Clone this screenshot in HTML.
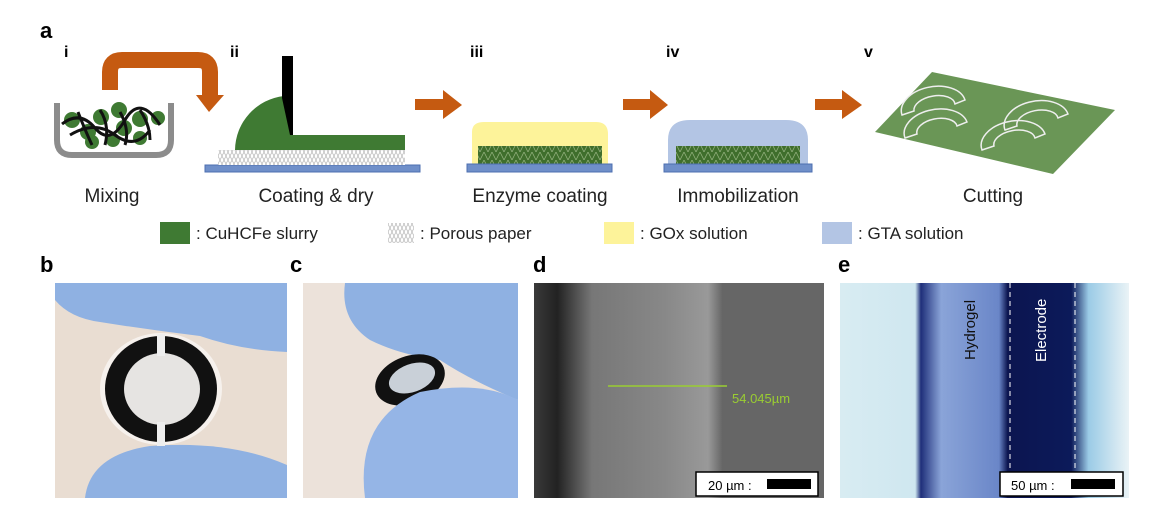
<!DOCTYPE html>
<html><head><meta charset="utf-8"><style>
body{margin:0;background:#fff;width:1169px;height:518px;overflow:hidden;font-family:"Liberation Sans",sans-serif}
</style></head><body>
<svg width="1169" height="518" viewBox="0 0 1169 518" xmlns="http://www.w3.org/2000/svg" font-family="Liberation Sans, sans-serif">
<defs>
<pattern id="pp" width="8" height="8" patternUnits="userSpaceOnUse"><rect width="8" height="8" fill="#fff"/><path d="M0 8L4 0L8 8M0 0L4 8L8 0" stroke="#bbb" stroke-width="0.8" fill="none"/></pattern>
<pattern id="gp" width="8" height="8" patternUnits="userSpaceOnUse"><rect width="8" height="8" fill="#3f6e2c"/><path d="M0 8L4 0L8 8" stroke="#8fae7a" stroke-width="0.8" fill="none"/></pattern>
<linearGradient id="gd" x1="0" y1="0" x2="1" y2="0"><stop offset="0" stop-color="#3a3a3a"/><stop offset="0.08" stop-color="#222"/><stop offset="0.2" stop-color="#777"/><stop offset="0.45" stop-color="#888"/><stop offset="0.6" stop-color="#999"/><stop offset="0.65" stop-color="#666"/><stop offset="1" stop-color="#666"/></linearGradient>
<linearGradient id="ge" x1="0" y1="0" x2="1" y2="0"><stop offset="0" stop-color="#d8ecf2"/><stop offset="0.26" stop-color="#cfe7f0"/><stop offset="0.28" stop-color="#1f2f7a"/><stop offset="0.35" stop-color="#8aa4d8"/><stop offset="0.55" stop-color="#6a86c8"/><stop offset="0.58" stop-color="#0c1550"/><stop offset="0.8" stop-color="#0c1a5a"/><stop offset="0.86" stop-color="#9bcbe6"/><stop offset="1" stop-color="#eaf3f6"/></linearGradient>
<clipPath id="cb"><rect x="55" y="283" width="232" height="215"/></clipPath>
<clipPath id="cc"><rect x="303" y="283" width="215" height="215"/></clipPath>
</defs>
<text x="40" y="38" font-size="22" font-weight="bold">a</text>
<g font-size="16" font-weight="bold"><text x="64" y="57">i</text><text x="230" y="57">ii</text><text x="470" y="57">iii</text><text x="666" y="57">iv</text><text x="864" y="57">v</text></g>
<path d="M57 103 V140 Q57 155 72 155 H156 Q171 155 171 140 V103" fill="none" stroke="#8c8c8c" stroke-width="6"/>
<g fill="#3f7a33"><circle cx="72" cy="120" r="8"/><circle cx="88" cy="132" r="8"/><circle cx="101" cy="117" r="8"/><circle cx="119" cy="110" r="8"/><circle cx="124" cy="128" r="8"/><circle cx="140" cy="119" r="8"/><circle cx="158" cy="118" r="7"/><circle cx="92" cy="142" r="7"/><circle cx="113" cy="140" r="7"/><circle cx="140" cy="138" r="7"/></g>
<path d="M62 124 Q80 110 95 128 T125 120 T160 125 M78 112 Q85 130 92 145 M100 110 Q110 125 105 145 M120 112 Q130 130 125 145 M140 110 Q150 125 150 140 M70 135 Q95 120 115 135 T150 130" fill="none" stroke="#111" stroke-width="3"/>
<path d="M110 90 V72 Q110 60 122 60 H198 Q210 60 210 72 V95" fill="none" stroke="#c55a11" stroke-width="16"/>
<path d="M196 95 H224 L209 112 Z" fill="#c55a11"/>
<rect x="205" y="165" width="215" height="7" fill="#6f8fc9" stroke="#4c6fb0"/>
<rect x="218" y="150" width="187" height="15" fill="url(#pp)"/>
<path d="M235 150 A55 55 0 0 1 284 96 L293 135 H405 V150 Z" fill="#3f7a33"/>
<path d="M282 56 H293 V135 H290 L282 98 Z" fill="#000"/>
<g fill="#c55a11"><path d="M415 99 H443 V90 L462 105 L443 119 V110 H415 Z"/><path d="M623 99 H650 V90 L668 105 L650 119 V110 H623 Z"/><path d="M815 99 H842 V90 L862 105 L842 119 V110 H815 Z"/></g>
<path d="M472 165 V132 Q472 122 484 122 H596 Q608 122 608 134 V165 Z" fill="#fdf39a"/>
<rect x="478" y="146" width="124" height="18" fill="url(#gp)"/>
<rect x="467" y="164" width="145" height="8" fill="#6f8fc9" stroke="#4c6fb0"/>
<path d="M668 164 V140 Q668 120 690 120 H786 Q808 120 808 140 V164 Z" fill="#b3c5e4"/>
<rect x="676" y="146" width="124" height="18" fill="url(#gp)"/>
<rect x="664" y="164" width="148" height="8" fill="#6f8fc9" stroke="#4c6fb0"/>
<path d="M932 72 L1115 110 L1053 174 L875 132 Z" fill="#6a9656"/>
<g fill="none" stroke="#eee" stroke-width="1.5">
<path d="M902 115 A28 18 -10 0 1 965 100 L955 104 A18 10 -10 0 0 914 111 Z"/>
<path d="M905 138 A28 18 -10 0 1 967 122 L957 126 A18 10 -10 0 0 917 134 Z"/>
<path d="M1005 130 A28 18 -10 0 1 1068 114 L1058 118 A18 10 -10 0 0 1017 126 Z"/>
<path d="M982 150 A28 18 -10 0 1 1045 134 L1035 138 A18 10 -10 0 0 994 146 Z"/>
</g>
<g font-size="19" text-anchor="middle" fill="#222"><text x="112" y="202">Mixing</text><text x="316" y="202">Coating &amp; dry</text><text x="540" y="202">Enzyme coating</text><text x="738" y="202">Immobilization</text><text x="993" y="202">Cutting</text></g>
<rect x="160" y="222" width="30" height="22" fill="#3f7a33"/><text x="196" y="239" font-size="17" fill="#222">: CuHCFe slurry</text>
<rect x="388" y="223" width="26" height="20" fill="url(#pp)"/><text x="420" y="239" font-size="17" fill="#222">: Porous paper</text>
<rect x="604" y="222" width="30" height="22" fill="#fdf39a"/><text x="640" y="239" font-size="17" fill="#222">: GOx solution</text>
<rect x="822" y="222" width="30" height="22" fill="#b3c5e4"/><text x="858" y="239" font-size="17" fill="#222">: GTA solution</text>
<g font-size="22" font-weight="bold"><text x="40" y="272">b</text><text x="290" y="272">c</text><text x="533" y="272">d</text><text x="838" y="272">e</text></g>
<!-- b -->
<g clip-path="url(#cb)">
<rect x="55" y="283" width="232" height="215" fill="#e9ddd2"/>
<path d="M55 283 H287 V352 Q240 350 200 336 Q150 330 100 322 Q70 318 55 300 Z" fill="#8fb1e2"/>
<path d="M85 498 Q90 455 150 446 Q230 440 287 465 V498 Z" fill="#8fb1e2"/>
<ellipse cx="161" cy="389" rx="61" ry="56" fill="#fff" opacity="0.6"/>
<ellipse cx="161" cy="389" rx="56" ry="53" fill="#111"/>
<ellipse cx="162" cy="389" rx="38" ry="36" fill="#e6e4e2"/>
<rect x="157" y="334" width="8" height="22" fill="#eee"/><rect x="157" y="422" width="8" height="24" fill="#eee"/>
</g>
<!-- c -->
<g clip-path="url(#cc)">
<rect x="303" y="283" width="215" height="215" fill="#ece2da"/>
<path d="M345 283 H518 V400 Q470 380 440 360 Q400 355 370 340 Q340 320 345 283 Z" fill="#8fb1e2"/>
<ellipse cx="410" cy="380" rx="36" ry="24" fill="#111" transform="rotate(-20 410 380)"/>
<ellipse cx="412" cy="378" rx="24" ry="14" fill="#c9d0d8" transform="rotate(-20 412 378)"/>
<path d="M365 498 Q355 420 420 392 Q480 380 518 400 V498 Z" fill="#95b5e6"/>
</g>
<!-- d -->
<rect x="534" y="283" width="290" height="215" fill="url(#gd)"/>
<line x1="608" y1="386" x2="727" y2="386" stroke="#9acd32" stroke-width="1.5"/>
<text x="732" y="403" font-size="13" fill="#9acd32">54.045µm</text>
<rect x="696" y="472" width="122" height="24" fill="#fff" stroke="#000" stroke-width="1.5"/>
<text x="708" y="490" font-size="13">20 µm :</text><rect x="767" y="479" width="44" height="10" fill="#000"/>
<!-- e -->
<rect x="840" y="283" width="289" height="215" fill="url(#ge)"/>
<line x1="1010" y1="283" x2="1010" y2="498" stroke="#fff" stroke-dasharray="5 4"/>
<line x1="1075" y1="283" x2="1075" y2="498" stroke="#fff" stroke-dasharray="5 4"/>
<text transform="translate(975 360) rotate(-90)" font-size="15" fill="#111">Hydrogel</text>
<text transform="translate(1046 362) rotate(-90)" font-size="15" fill="#fff">Electrode</text>
<rect x="1000" y="472" width="123" height="24" fill="#fff" stroke="#000" stroke-width="1.5"/>
<text x="1011" y="490" font-size="13">50 µm :</text><rect x="1071" y="479" width="44" height="10" fill="#000"/>
</svg>
</body></html>
